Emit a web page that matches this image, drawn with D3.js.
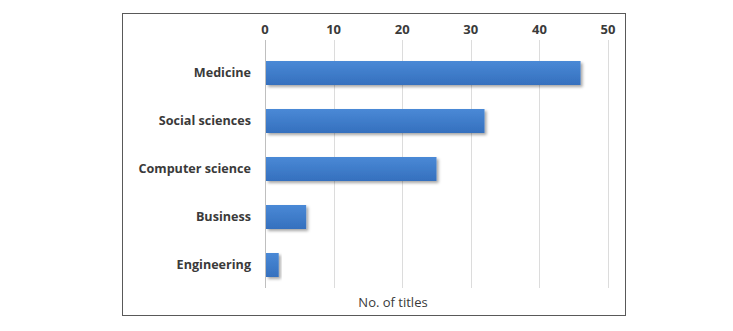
<!DOCTYPE html>
<html>
<head>
<meta charset="utf-8">
<script src="https://cdn.jsdelivr.net/npm/d3@7"></script>
<style>
  body { margin: 0; background: #fff; }
  text { font-family: "Open Sans", "Liberation Sans", sans-serif; fill: #3a3a3a; }
  .tick-label { font-weight: bold; font-size: 13px; }
  .cat-label { font-weight: bold; font-size: 12.6px; }
  .axis-label { font-size: 13px; }
</style>
</head>
<body>
<div id="chart"></div>
<script>
const categories = ["Medicine", "Social sciences", "Computer science", "Business", "Engineering"];
const values = [46, 32, 25, 6, 2];
const ticks = [0, 10, 20, 30, 40, 50];

const W = 733, H = 331;
const plot = { left: 265, right: 608, top: 40, bottom: 288 };

const svg = d3.select("#chart")
  .append("svg")
  .attr("width", W)
  .attr("height", H);

const defs = svg.append("defs");
const grad = defs.append("linearGradient")
  .attr("id", "barGrad")
  .attr("x1", 0).attr("y1", 0).attr("x2", 0).attr("y2", 1);
grad.append("stop").attr("offset", "0%").attr("stop-color", "#4a89d6");
grad.append("stop").attr("offset", "100%").attr("stop-color", "#3570be");

const shadow = defs.append("filter").attr("id", "shadow")
  .attr("x", "-10%").attr("y", "-20%").attr("width", "130%").attr("height", "160%");
shadow.append("feDropShadow")
  .attr("dx", 2).attr("dy", 2).attr("stdDeviation", 1.5)
  .attr("flood-color", "#000").attr("flood-opacity", 0.35);

// outer frame
svg.append("rect")
  .attr("x", 122.5).attr("y", 13.5)
  .attr("width", 503).attr("height", 302)
  .attr("fill", "none")
  .attr("stroke", "#595959")
  .attr("stroke-width", 1);

const x = d3.scaleLinear().domain([0, 50]).range([plot.left, plot.right]);
const y = d3.scaleBand().domain(categories).range([49, 289])
  .paddingInner(0.5).paddingOuter(0.25);

// gridlines
svg.append("g")
  .selectAll("line")
  .data(ticks)
  .join("line")
  .attr("x1", d => Math.round(x(d)) + 0.5)
  .attr("x2", d => Math.round(x(d)) + 0.5)
  .attr("y1", plot.top)
  .attr("y2", plot.bottom)
  .attr("stroke", d => d === 0 ? "#bfbfbf" : "#dcdcdc")
  .attr("stroke-width", 1);

// top axis labels
svg.append("g")
  .selectAll("text")
  .data(ticks)
  .join("text")
  .attr("class", "tick-label")
  .attr("x", d => x(d))
  .attr("y", 34)
  .attr("text-anchor", "middle")
  .text(d => d);

// bars
svg.append("g")
  .selectAll("rect")
  .data(values)
  .join("rect")
  .attr("x", x(0) + 1)
  .attr("y", (d, i) => y(categories[i]))
  .attr("width", d => x(d) - x(0) - 1)
  .attr("height", y.bandwidth())
  .attr("fill", "url(#barGrad)")
  .attr("filter", "url(#shadow)");

// category labels
svg.append("g")
  .selectAll("text")
  .data(categories)
  .join("text")
  .attr("class", "cat-label")
  .attr("x", 251)
  .attr("y", d => y(d) + y.bandwidth() / 2)
  .attr("dy", "0.35em")
  .attr("text-anchor", "end")
  .text(d => d);

svg.append("text")
  .attr("class", "axis-label")
  .attr("x", 393)
  .attr("y", 307)
  .attr("text-anchor", "middle")
  .text("No. of titles");
</script>
</body>
</html>
